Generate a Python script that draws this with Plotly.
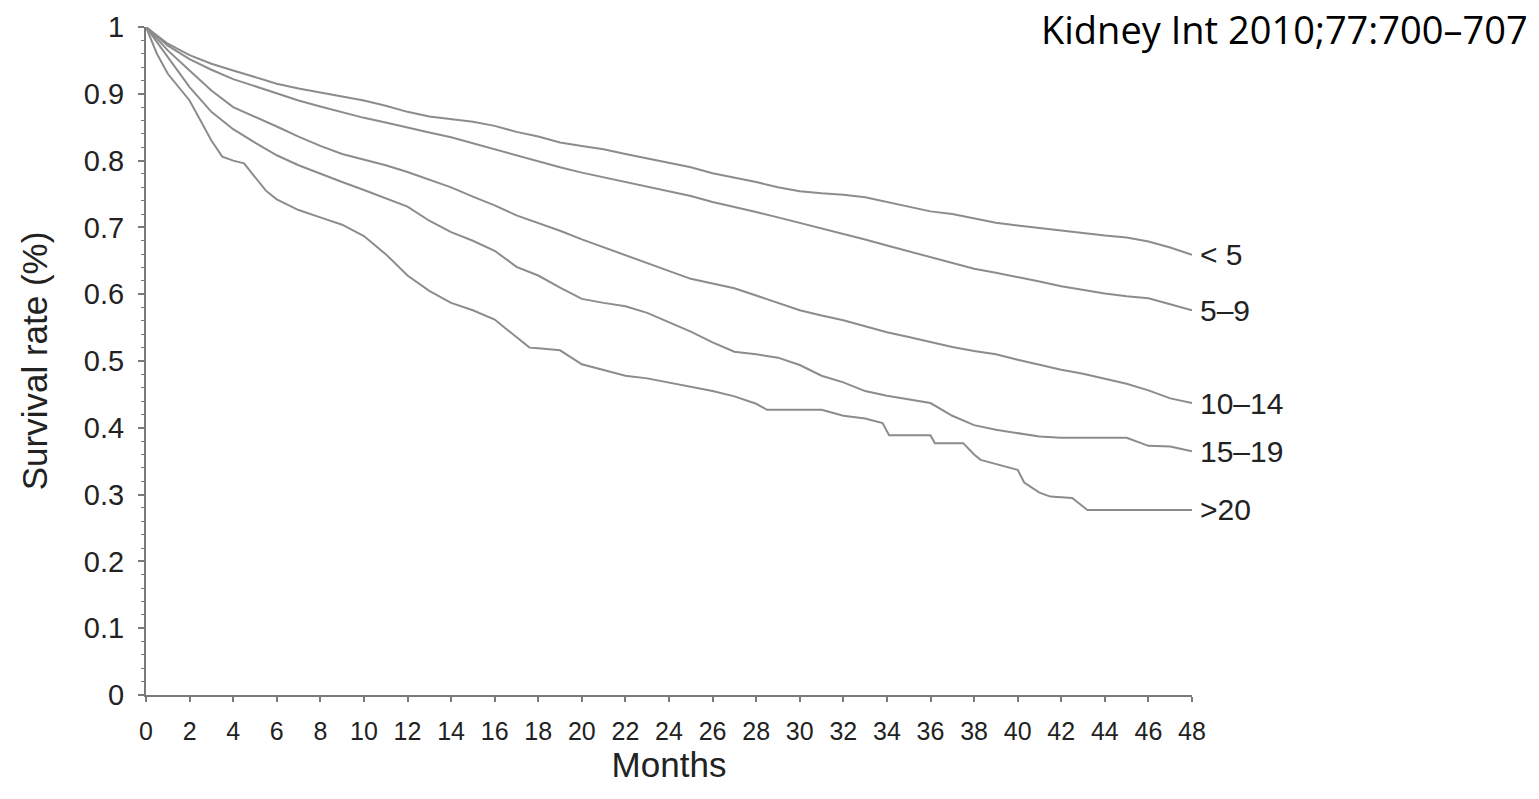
import plotly.graph_objects as go

# Survival by dialysis vintage group (years), Kaplan-Meier style curves
months_lt5 = list(range(0, 49))
surv_lt5 = [1.0, 0.975, 0.958, 0.945, 0.935, 0.925, 0.915, 0.908, 0.902, 0.896,
            0.89, 0.882, 0.873, 0.866, 0.862, 0.858, 0.852, 0.843, 0.836, 0.827,
            0.822, 0.817, 0.81, 0.803, 0.797, 0.79, 0.781, 0.775, 0.768, 0.76,
            0.754, 0.751, 0.749, 0.745, 0.738, 0.73, 0.724, 0.72, 0.714, 0.707,
            0.703, 0.699, 0.695, 0.691, 0.688, 0.685, 0.679, 0.67, 0.659]

months_5_9 = list(range(0, 49))
surv_5_9 = [1.0, 0.972, 0.952, 0.936, 0.922, 0.911, 0.9, 0.89, 0.881, 0.872,
            0.864, 0.857, 0.849, 0.842, 0.835, 0.826, 0.816, 0.808, 0.799, 0.79,
            0.782, 0.775, 0.768, 0.761, 0.754, 0.747, 0.738, 0.731, 0.723, 0.715,
            0.707, 0.699, 0.69, 0.682, 0.673, 0.664, 0.655, 0.646, 0.638, 0.632,
            0.626, 0.619, 0.612, 0.606, 0.601, 0.597, 0.594, 0.585, 0.576]

months_10_14 = list(range(0, 49))
surv_10_14 = [1.0, 0.965, 0.935, 0.905, 0.88, 0.866, 0.851, 0.836, 0.822, 0.81,
              0.802, 0.793, 0.783, 0.772, 0.76, 0.746, 0.733, 0.718, 0.707, 0.695,
              0.682, 0.67, 0.658, 0.647, 0.635, 0.623, 0.616, 0.609, 0.598, 0.587,
              0.576, 0.568, 0.561, 0.552, 0.543, 0.536, 0.528, 0.521, 0.515, 0.51,
              0.502, 0.494, 0.487, 0.481, 0.474, 0.466, 0.456, 0.444, 0.437]

months_15_19 = list(range(0, 49))
surv_15_19 = [1.0, 0.955, 0.91, 0.873, 0.847, 0.827, 0.808, 0.793, 0.78, 0.768,
              0.756, 0.743, 0.731, 0.71, 0.693, 0.68, 0.665, 0.641, 0.628, 0.61,
              0.593, 0.587, 0.582, 0.572, 0.558, 0.544, 0.528, 0.514, 0.51, 0.505,
              0.494, 0.478, 0.468, 0.455, 0.448, 0.443, 0.437, 0.418, 0.404, 0.397,
              0.392, 0.387, 0.385, 0.385, 0.385, 0.385, 0.373, 0.372, 0.365]

months_gt20 = [0, 0.5, 1, 1.5, 2, 2.5, 3, 3.5, 4, 4.5, 5, 5.5, 6, 7, 8, 9, 10, 11,
               12, 13, 14, 15, 16, 17, 17.6, 18, 19, 20, 21, 22, 23, 24, 25, 26,
               27, 28, 28.5, 29, 31, 32, 33, 33.8, 34.1, 36, 36.2, 37.5, 38, 38.3,
               40, 40.3, 41, 41.5, 42.5, 43.2, 48]
surv_gt20 = [1.0, 0.96, 0.93, 0.91, 0.89, 0.86, 0.83, 0.806, 0.8, 0.796, 0.775,
             0.755, 0.742, 0.726, 0.715, 0.704, 0.687, 0.66, 0.628, 0.605, 0.587,
             0.576, 0.562, 0.535, 0.52, 0.519, 0.516, 0.495, 0.486, 0.478, 0.474,
             0.468, 0.462, 0.455, 0.447, 0.436, 0.427, 0.427, 0.427, 0.418, 0.414,
             0.407, 0.389, 0.389, 0.377, 0.377, 0.36, 0.352, 0.337, 0.318, 0.303,
             0.297, 0.295, 0.277, 0.277]

group_labels = ["< 5", "5\u20139", "10\u201314", "15\u201319", ">20"]
series = [
    (months_lt5, surv_lt5),
    (months_5_9, surv_5_9),
    (months_10_14, surv_10_14),
    (months_15_19, surv_15_19),
    (months_gt20, surv_gt20),
]

x_ticks = list(range(0, 49, 2))
y_ticks = [0, 0.1, 0.2, 0.3, 0.4, 0.5, 0.6, 0.7, 0.8, 0.9, 1]
y_tick_text = ["0", "0.1", "0.2", "0.3", "0.4", "0.5", "0.6", "0.7", "0.8", "0.9", "1"]

line_color = "#8c8c8c"
axis_color = "#7a7a7a"
text_color = "#222222"
sans = "Liberation Sans, Arial, sans-serif"

fig = go.Figure()
for (xs, ys), name in zip(series, group_labels):
    fig.add_trace(go.Scatter(
        x=xs, y=ys, mode="lines", name=name,
        line=dict(color=line_color, width=2, shape="linear"),
        showlegend=False, hoverinfo="x+y+name",
    ))
    # group label at the end of each curve
    fig.add_annotation(
        x=xs[-1], y=ys[-1], text=name, showarrow=False,
        xanchor="left", yanchor="middle", xshift=6,
        font=dict(family=sans, size=30, color=text_color),
    )

fig.add_annotation(
    xref="paper", yref="paper", x=1.0, y=1.0,
    text="Kidney Int 2010;77:700\u2013707", showarrow=False,
    xanchor="right", yanchor="middle", xshift=338, yshift=-2,
    font=dict(family="Open Sans, sans-serif", size=38, color="#000000"),
)

fig.update_layout(
    width=1539, height=799,
    margin=dict(l=146, r=347, t=27, b=104),
    paper_bgcolor="white", plot_bgcolor="white",
    font=dict(family=sans, color=text_color),
)

fig.update_xaxes(
    range=[0, 48], tickvals=x_ticks, ticktext=[str(v) for v in x_ticks],
    showgrid=False, zeroline=False,
    showline=True, linecolor=axis_color, linewidth=2,
    ticks="outside", ticklen=5, tickwidth=1.5, tickcolor=axis_color,
    ticklabelstandoff=8,
    tickfont=dict(size=25, color=text_color),
    title=dict(text="Months", font=dict(size=35, color=text_color), standoff=6),
)
fig.update_yaxes(
    range=[0, 1], tickvals=y_ticks, ticktext=y_tick_text,
    showgrid=False, zeroline=False,
    showline=True, linecolor=axis_color, linewidth=2,
    ticks="outside", ticklen=6, tickwidth=1.5, tickcolor=axis_color,
    minor=dict(dtick=0.02, ticks="outside", ticklen=3, tickwidth=1, tickcolor=axis_color),
    ticklabelstandoff=8,
    tickfont=dict(size=29, color=text_color),
    title=dict(text="Survival rate (%)", font=dict(size=35, color=text_color), standoff=26),
)

fig.write_html("out.html")
